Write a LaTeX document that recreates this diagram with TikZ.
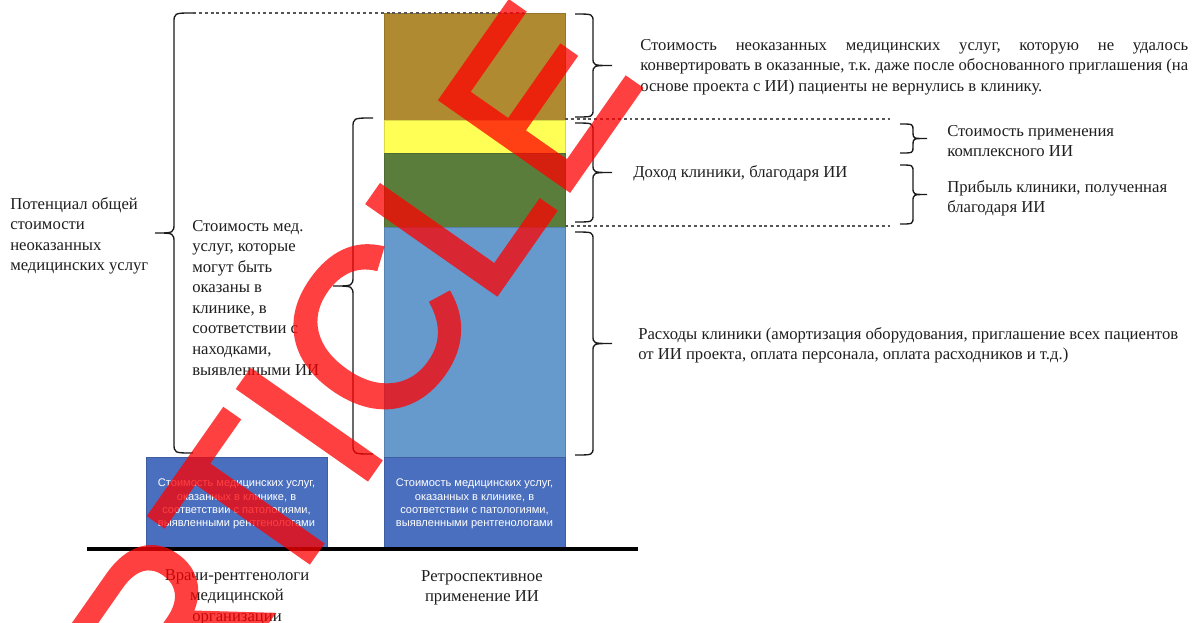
\documentclass[tikz,border=0pt]{standalone}
\usepackage{fontspec}
\setmainfont{Liberation Serif}
\setsansfont{Liberation Sans}
\newfontfamily\wmfont[FakeBold=2]{Liberation Sans}
\definecolor{cbrown}{HTML}{B08A30}
\definecolor{cyellow}{HTML}{FFFF55}
\definecolor{cgreen}{HTML}{5B7D3C}
\definecolor{clblue}{HTML}{6699CC}
\definecolor{cdblue}{HTML}{4A6FBE}
\definecolor{cbrace}{HTML}{1A1A1A}
\definecolor{cdash}{HTML}{555555}
\definecolor{ctext}{HTML}{1E1E1E}
\newcommand\BraceDraw[6]{%
  \draw[bracestyle] (#1,#2) .. controls (#4,#2) .. (#4,#2+#6)
    -- (#4,{(#2+#3)/2-#6}) .. controls (#4,{(#2+#3)/2}) .. (#5,{(#2+#3)/2})
    .. controls (#4,{(#2+#3)/2}) .. (#4,{(#2+#3)/2+#6})
    -- (#4,#3-#6) .. controls (#4,#3) .. (#1,#3);}
\frenchspacing
\begin{document}
\begin{tikzpicture}[x=0.75pt,y=-0.75pt,
  seg/.style={draw=#1!85!black, line width=0.4pt, fill=#1, minimum width=135.75pt, inner sep=0pt, anchor=north west},
  bracestyle/.style={draw=cbrace, line width=1pt},
  dashline/.style={draw=cdash, line width=0.8pt, dash pattern=on 2.2pt off 2.2pt},
  lbl/.style={font=\fontsize{12.5}{15.4}\selectfont, inner sep=0pt, align=left, text=ctext},
  boxtxt/.style={font=\sffamily\fontsize{8.3}{10}\selectfont, text=white, align=center, inner sep=0pt},
  water/.style={font=\wmfont\fontsize{171}{171}\selectfont, text=red, inner sep=0pt, rotate=55, anchor=base west},
]
\useasboundingbox (0,0) rectangle (1198,622);
\begin{scope}
\clip (0,0) rectangle (1198,622);
% stacked bar
\node[seg=cbrown, minimum height=80.25pt] (brown) at (384,13) {};
\node[seg=cyellow, minimum height=24.75pt] (yellow) at (384,120) {};
\node[seg=cgreen, minimum height=55.5pt] (green) at (384,153) {};
\node[seg=clblue, minimum height=172.5pt] (lblue) at (384,227) {};
\node[seg=cdblue, minimum height=67.5pt] (rbox) at (384,457) {};
\node[seg=cdblue, minimum height=67.5pt] (lbox) at (146,457) {};
\node[boxtxt] (rboxt) at (474.5,504) {Стоимость медицинских услуг,\\оказанных в клинике, в\\соответствии с патологиями,\\выявленными рентгенологами};
\node[boxtxt] (lboxt) at (236.5,504) {Стоимость медицинских услуг,\\оказанных в клинике, в\\соответствии с патологиями,\\выявленными рентгенологами};
% base line
\coordinate (bl) at (87,549);
\coordinate (br) at (638,549);
\draw[line width=3.4pt] (bl) -- (br);
% dashed lines
\coordinate (d1a) at (193,13); \coordinate (d1b) at (527,13);
\coordinate (d2a) at (565,119); \coordinate (d2b) at (890,119);
\coordinate (d3a) at (565,226); \coordinate (d3b) at (890,226);
\draw[dashline] (d1a) -- (d1b);
\draw[dashline] (d2a) -- (d2b);
\draw[dashline] (d3a) -- (d3b);
% braces
\BraceDraw{193}{13}{453}{174}{155}{10}
\BraceDraw{373}{118}{454}{353}{333}{10}
\BraceDraw{575}{14}{117}{593}{612}{8}
\BraceDraw{575}{123}{222}{593}{612}{8}
\BraceDraw{575}{232}{455}{593}{612}{8}
\BraceDraw{900}{124}{153}{913}{927}{6}
\BraceDraw{900}{165}{224}{913}{927}{7}
% labels
\node[lbl, anchor=north west] (tpot) at (10,197) {Потенциал общей\\стоимости\\неоказанных\\медицинских услуг};
\node[lbl, anchor=north west] (tmed) at (192,220) {Стоимость мед.\\услуг, которые\\могут быть\\оказаны в\\клинике, в\\соответствии с\\находками,\\выявленными ИИ};
\node[lbl, anchor=north west, text width=411pt, align=justify] (tneok) at (640,39) {Стоимость неоказанных медицинских услуг, которую не удалось\linebreak конвертировать в оказанные, т.к. даже после обоснованного приглашения (на\linebreak основе проекта с ИИ) пациенты не вернулись в клинику.};
\node[lbl, anchor=west] (tdoh) at (633,173) {Доход клиники, благодаря ИИ};
\node[lbl, anchor=north west] (tprim) at (947,125) {Стоимость применения\\комплексного ИИ};
\node[lbl, anchor=north west] (tprib) at (947,180) {Прибыль клиники, полученная\\благодаря ИИ};
\node[lbl, anchor=north west] (trash) at (638,327) {Расходы клиники (амортизация оборудования, приглашение всех пациентов\\от ИИ проекта, оплата персонала, оплата расходников и т.д.)};
\node[lbl, align=center, anchor=north] (tvr) at (237,569) {Врачи-рентгенологи\\медицинской\\организации};
\node[lbl, align=center, anchor=north] (tretro) at (482,570) {Ретроспективное\\применение ИИ};
% watermark
\begin{scope}[transparency group, opacity=0.75]
\node[water] (wm) at (96,866) {ARTICLE};
\end{scope}
\end{scope}
\end{tikzpicture}
\end{document}
